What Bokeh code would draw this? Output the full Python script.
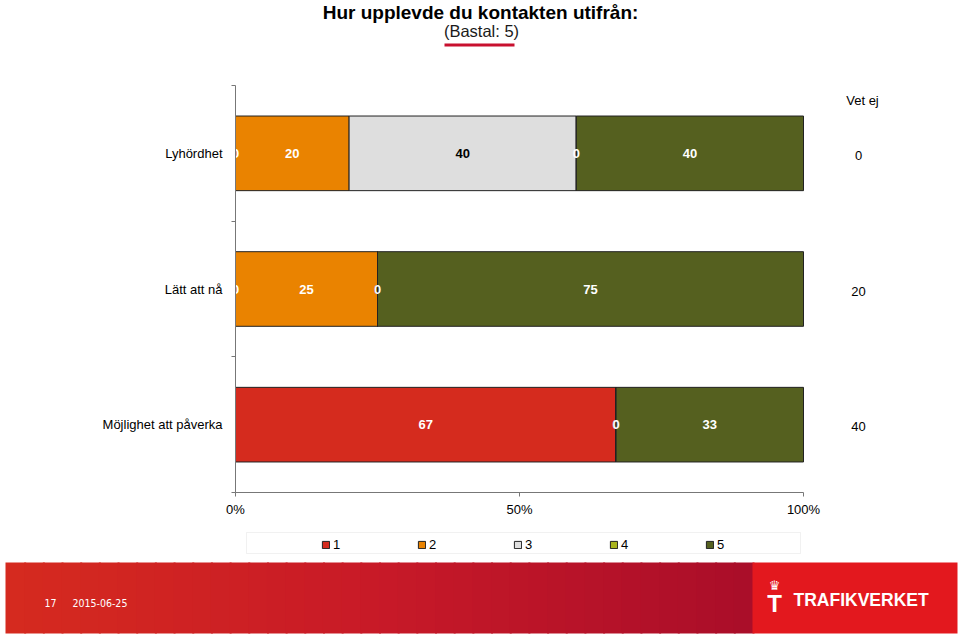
import numpy as np
from bokeh.plotting import figure
from bokeh.models import (Range1d, FixedTicker, Label, BoxAnnotation, Legend,
                          LegendItem, ColumnDataSource)
from bokeh.core.properties import value
from bokeh.embed import file_html
from bokeh.resources import INLINE

# ---------------- data ----------------
categories = ["Lyhördhet", "Lätt att nå", "Möjlighet att påverka"]
series_names = ["1", "2", "3", "4", "5"]
s1 = [0, 0, 67]
s2 = [20, 25, 0]
s3 = [40, 0, 0]
s4 = [0, 0, 0]
s5 = [40, 75, 33]
vet_ej = [0, 20, 40]
x_ticks = [0, 50, 100]
x_tick_labels = ["0%", "50%", "100%"]
title_text = "Hur upplevde du kontakten utifrån:"
subtitle_text = "(Bastal: 5)"
vet_ej_header = "Vet ej"
footer_page = "17"
footer_date = "2015-06-25"
brand = "TRAFIKVERKET"

# ---------------- style / layout ----------------
colors = ["#D52B1E", "#EA8300", "#DEDEDE", "#A9B41E", "#55601F"]
label_colors = ["white", "white", "black", "white", "white"]
FONT = "'Liberation Sans', Arial, sans-serif"
NARROW = "'Liberation Sans Narrow', 'DejaVu Sans Condensed', 'Liberation Sans', sans-serif"
AXIS_COLOR = "#777777"
W, H = 960, 635
PX_X0, PX_X100 = 235, 803      # pixel position of 0% and 100%
PX_TOP, PX_BOTTOM = 85, 492    # pixel position of category-area top / bottom


def sy(py):
    """page pixel y (from top) -> screen units (from bottom)"""
    return H - py


series = [s1, s2, s3, s4, s5]
n = len(categories)
yc = [n - i - 0.5 for i in range(n)]

xs = (PX_X100 - PX_X0) / 100.0
ysc = (PX_BOTTOM - PX_TOP) / float(n)
x_range = Range1d(-PX_X0 / xs, (W - PX_X0) / xs)
y_range = Range1d(-(H - PX_BOTTOM) / ysc, n + PX_TOP / ysc)

p = figure(width=W, height=H, x_range=x_range, y_range=y_range,
           output_backend="svg", toolbar_location=None, title=None,
           min_border=0, min_border_left=0, min_border_right=0,
           min_border_top=0, min_border_bottom=0)
p.outline_line_color = None
p.xgrid.visible = False
p.ygrid.visible = False
p.background_fill_color = "white"
p.border_fill_color = "white"

# x axis
p.xaxis.fixed_location = 0
p.xaxis.bounds = (0, 100)
p.xaxis.ticker = FixedTicker(ticks=x_ticks)
p.xaxis.major_label_overrides = {t: l for t, l in zip(x_ticks, x_tick_labels)}
p.xaxis.major_tick_in = 0
p.xaxis.major_tick_out = 4
p.xaxis.minor_tick_line_color = None
p.xaxis.axis_line_color = AXIS_COLOR
p.xaxis.major_tick_line_color = AXIS_COLOR
p.xaxis.major_label_text_font = FONT
p.xaxis.major_label_text_font_size = "13px"
p.xaxis.major_label_text_color = "black"
p.xaxis.major_label_standoff = 5

# y axis
p.yaxis.fixed_location = 0
p.yaxis.bounds = (0, n)
p.yaxis.ticker = FixedTicker(ticks=yc, minor_ticks=list(range(n + 1)))
p.yaxis.major_label_overrides = {y: c for y, c in zip(yc, categories)}
p.yaxis.major_tick_in = 0
p.yaxis.major_tick_out = 0
p.yaxis.minor_tick_in = 0
p.yaxis.minor_tick_out = 4
p.yaxis.axis_line_color = AXIS_COLOR
p.yaxis.minor_tick_line_color = AXIS_COLOR
p.yaxis.major_label_text_font = FONT
p.yaxis.major_label_text_font_size = "13px"
p.yaxis.major_label_text_color = "black"
p.yaxis.major_label_standoff = 9

# title
p.add_layout(Label(x=W / 2, y=sy(12), x_units="screen", y_units="screen", text=title_text,
                   text_align="center", text_baseline="middle", text_font=FONT,
                   text_font_size="19px", text_font_style="bold", text_color="black"))
p.add_layout(Label(x=481, y=sy(30), x_units="screen", y_units="screen", text=subtitle_text,
                   text_align="center", text_baseline="middle", text_font=FONT,
                   text_font_size="16.5px", text_color="#1a1a1a"))
p.add_layout(BoxAnnotation(left=444, right=514, top=sy(43), bottom=sy(46),
                           left_units="screen", right_units="screen",
                           top_units="screen", bottom_units="screen",
                           fill_color="#C8102E", fill_alpha=1, line_color=None))

# bars
cum = np.zeros(n)
renderers = []
for k, vals in enumerate(series):
    vals = np.array(vals, dtype=float)
    left = cum.copy()
    right = cum + vals
    src = ColumnDataSource(dict(y=yc, left=left, right=right))
    r = p.hbar(y="y", left="left", right="right", height=0.55, source=src,
               fill_color=colors[k], line_color="#222222", line_width=1)
    renderers.append(r)
    cum = right

# value labels (drawn after all bars)
cum = np.zeros(n)
for k, vals in enumerate(series):
    vals = np.array(vals, dtype=float)
    left = cum.copy()
    right = cum + vals
    src = ColumnDataSource(dict(y=yc, mid=(left + right) / 2,
                                txt=[str(int(v)) for v in vals]))
    p.text(x="mid", y="y", text="txt", source=src, text_align="center",
           text_baseline="middle", text_color=label_colors[k],
           text_font=value(FONT), text_font_size="13px", text_font_style="bold")
    cum = right

# Vet ej column
p.add_layout(Label(x=862, y=sy(100), x_units="screen", y_units="screen", text=vet_ej_header,
                   text_align="center", text_baseline="middle", text_font=FONT,
                   text_font_size="13px", text_color="black"))
for y, v in zip(yc, vet_ej):
    p.add_layout(Label(x=858, y=y, x_units="screen", y_units="data", text=str(v),
                       y_offset=-2, text_align="center", text_baseline="middle",
                       text_font=FONT, text_font_size="13px", text_color="black"))

# legend
p.add_layout(BoxAnnotation(left=246, right=800, top=sy(532), bottom=sy(553),
                           left_units="screen", right_units="screen",
                           top_units="screen", bottom_units="screen",
                           fill_color="white", fill_alpha=1,
                           line_color="#D0D0D0", line_width=1))
legend = Legend(items=[LegendItem(label=nm, renderers=[r]) for nm, r in zip(series_names, renderers)],
                orientation="horizontal", location=(321, sy(552)),
                border_line_color=None, background_fill_alpha=0,
                glyph_width=9, glyph_height=9, label_standoff=3,
                label_width=74, label_height=14, spacing=10, padding=4,
                label_text_font=FONT, label_text_font_size="13px",
                label_text_color="black")
p.add_layout(legend)

# footer band (decorative gradient)
stops_x = [0.0, 0.5, 1.0]
stops_c = [(214, 43, 31), (200, 26, 40), (170, 14, 42)]
n_strips = 40
f_left, f_split, f_right = 5, 752, 957
f_top, f_bottom = sy(562), sy(633)
edges = np.linspace(f_left, f_split, n_strips + 1)
for i in range(n_strips):
    t = (i + 0.5) / n_strips
    rgb = [int(np.interp(t, stops_x, [c[j] for c in stops_c])) for j in range(3)]
    p.add_layout(BoxAnnotation(left=edges[i], right=edges[i + 1] + 2, top=f_top, bottom=f_bottom,
                               left_units="screen", right_units="screen",
                               top_units="screen", bottom_units="screen",
                               fill_color="#%02x%02x%02x" % tuple(rgb), fill_alpha=1,
                               line_color=None))
p.add_layout(BoxAnnotation(left=f_split, right=f_right, top=f_top, bottom=f_bottom,
                           left_units="screen", right_units="screen",
                           top_units="screen", bottom_units="screen",
                           fill_color="#E3181E", fill_alpha=1, line_color=None))
p.add_layout(Label(x=44, y=sy(602), x_units="screen", y_units="screen", text=footer_page,
                   text_align="left", text_baseline="middle", text_font=NARROW,
                   text_font_size="10.5px", text_color="white"))
p.add_layout(Label(x=72, y=sy(602), x_units="screen", y_units="screen", text=footer_date,
                   text_align="left", text_baseline="middle", text_font=NARROW,
                   text_font_size="10.5px", text_color="white"))
p.add_layout(Label(x=774, y=sy(585), x_units="screen", y_units="screen", text="♛",
                   text_align="center", text_baseline="middle", text_font="DejaVu Sans",
                   text_font_size="13px", text_color="white"))
p.add_layout(Label(x=774, y=sy(603), x_units="screen", y_units="screen", text="T",
                   text_align="center", text_baseline="middle", text_font=FONT,
                   text_font_size="24px", text_font_style="bold", text_color="white"))
p.add_layout(Label(x=793, y=sy(599), x_units="screen", y_units="screen", text=brand,
                   text_align="left", text_baseline="middle", text_font=FONT,
                   text_font_size="17.5px", text_font_style="bold", text_color="white"))

open("out.html", "w").write(file_html(p, INLINE))
